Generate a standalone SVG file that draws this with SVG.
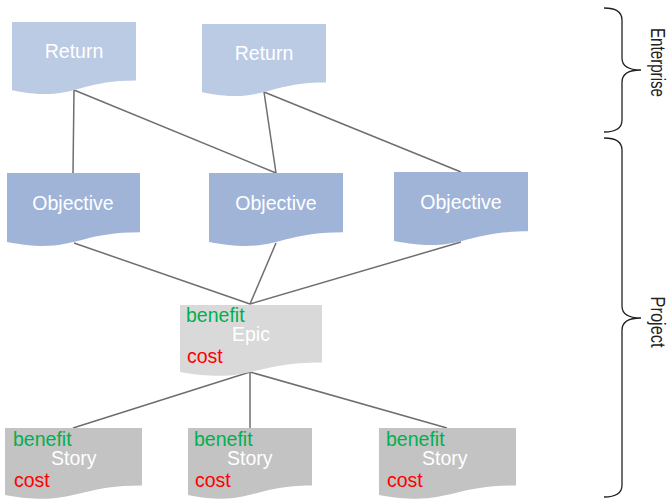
<svg xmlns="http://www.w3.org/2000/svg" width="668" height="503" viewBox="0 0 668 503">
<style>
text{font-family:"Liberation Sans",Arial,sans-serif;font-size:19.5px}
.w{fill:#ffffff;text-anchor:middle}
.ws{fill:#ffffff}
.b{fill:#00b050}
.c{fill:#ff0000}
.ret{fill:#bccbe4}
.obj{fill:#a0b4d8}
.epic{fill:#d9d9d9}
.story{fill:#c3c3c3}
.conn line{stroke:#6e6e6e;stroke-width:1.5}
.brace{fill:none;stroke:#222;stroke-width:1.3}
.lbl{fill:#222;font-size:20px;text-anchor:middle}
</style>
<g id="connectors" class="conn">
<line x1="74" y1="90" x2="73" y2="173"/>
<line x1="74" y1="90" x2="276" y2="173"/>
<line x1="264" y1="92" x2="276" y2="173"/>
<line x1="264" y1="92" x2="461" y2="172"/>
<line x1="74" y1="243" x2="250" y2="304"/>
<line x1="276" y1="243" x2="250" y2="304"/>
<line x1="461" y1="242" x2="250" y2="304"/>
<line x1="250" y1="372" x2="73" y2="428"/>
<line x1="250" y1="372" x2="250" y2="428"/>
<line x1="250" y1="372" x2="447" y2="428"/>
</g>
<g id="return1">
<path class="ret" d="M12,22 H136 V80.5 C74,80.5 74,102.8 12,90.2 Z"/>
<text class="w" x="74" y="58">Return</text>
</g>
<g id="return2">
<path class="ret" d="M202,24 H326 V82.5 C264,82.5 264,104.8 202,92.2 Z"/>
<text class="w" x="264" y="60">Return</text>
</g>
<g id="objective1">
<path class="obj" d="M7,173 H140 V232.3 C73.5,232.3 73.5,255 7,242.1 Z"/>
<text class="w" x="73" y="210">Objective</text>
</g>
<g id="objective2">
<path class="obj" d="M209,173 H343 V232.3 C276,232.3 276,255 209,242.1 Z"/>
<text class="w" x="276" y="210">Objective</text>
</g>
<g id="objective3">
<path class="obj" d="M394,172 H528 V231.3 C461,231.3 461,254 394,241.1 Z"/>
<text class="w" x="461" y="209">Objective</text>
</g>
<g id="epic">
<path class="epic" d="M180,305 H322 V362.5 C251,362.5 251,384.4 180,372 Z"/>
<text class="b" x="186" y="322">benefit</text>
<text class="ws" x="232" y="341">Epic</text>
<text class="c" x="187" y="363">cost</text>
</g>
<g id="story1">
<path class="story" d="M5,428 H142 V485.5 C73.5,485.5 73.5,507.4 5,495 Z"/>
<text class="b" x="13" y="446">benefit</text>
<text class="ws" x="51" y="465">Story</text>
<text class="c" x="14" y="487">cost</text>
</g>
<g id="story2">
<path class="story" d="M188,428 H312 V485.5 C250,485.5 250,507.4 188,495 Z"/>
<text class="b" x="194" y="446">benefit</text>
<text class="ws" x="227" y="465">Story</text>
<text class="c" x="195" y="487">cost</text>
</g>
<g id="story3">
<path class="story" d="M379,428 H516 V485.5 C447.5,485.5 447.5,507.4 379,495 Z"/>
<text class="b" x="386" y="446">benefit</text>
<text class="ws" x="422" y="465">Story</text>
<text class="c" x="387" y="487">cost</text>
</g>
<g id="enterprise">
<path class="brace" d="M604,8 Q622,8 622,20 L622,58 Q622,70 641,70 Q622,70 622,82 L622,120 Q622,132 604,132"/>
<text class="lbl" transform="translate(651,62.5) rotate(90)" textLength="69" lengthAdjust="spacingAndGlyphs">Enterprise</text>
</g>
<g id="project">
<path class="brace" d="M604,138 Q622,138 622,150 L622,306 Q622,318 641,318 Q622,318 622,330 L622,485 Q622,497 604,497"/>
<text class="lbl" transform="translate(651,322) rotate(90)" textLength="51" lengthAdjust="spacingAndGlyphs">Project</text>
</g>
</svg>
